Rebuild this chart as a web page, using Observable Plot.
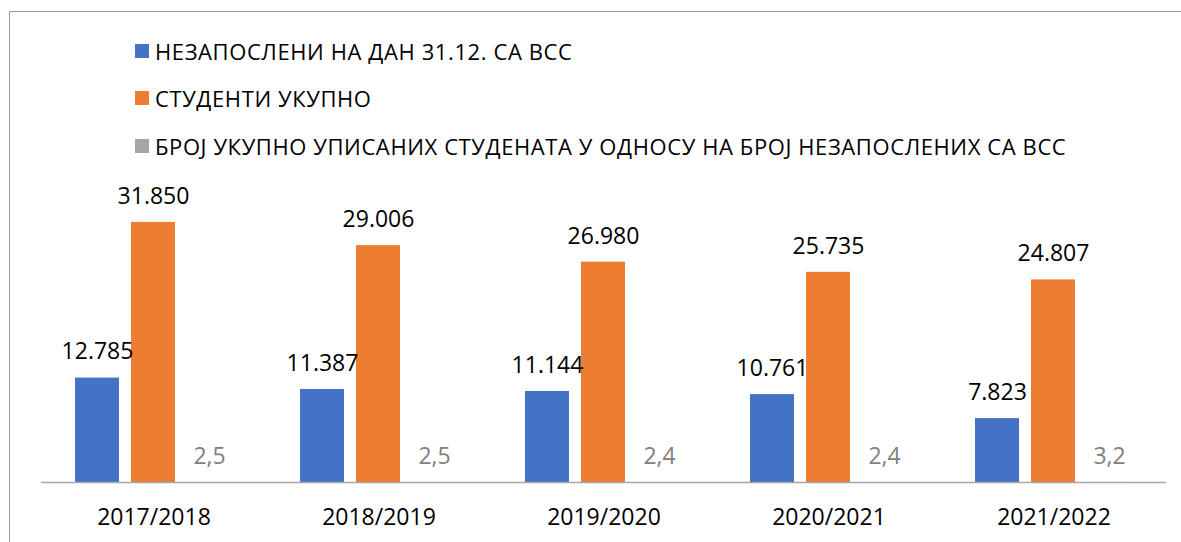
<!DOCTYPE html>
<html>
<head>
<meta charset="utf-8">
<script src="https://cdn.jsdelivr.net/npm/d3@7"></script>
<script src="https://cdn.jsdelivr.net/npm/@observablehq/plot@0.6"></script>
<style>
  html, body { margin: 0; padding: 0; background: #fff; width: 1181px; height: 542px; overflow: hidden; position: relative; font-family: "Open Sans", sans-serif; }
  #frame { position: absolute; left: 9px; top: 11px; width: 2000px; height: 2000px; border-left: 1px solid #9a9a9a; border-top: 1px solid #9a9a9a; }
  #legend { position: absolute; left: 135px; top: 0; }
  .item { position: absolute; left: 0; white-space: nowrap; display: flex; align-items: center; font-size: 22px; letter-spacing: 0.6px; color: #000; }
  .sw { width: 14px; height: 14px; margin-right: 6px; flex: none; }
  #chart { position: absolute; left: 0; top: 160px; }
</style>
</head>
<body>
<div id="frame"></div>
<div id="legend"></div>
<div id="chart"></div>
<script>
const years = ["2017/2018", "2018/2019", "2019/2020", "2020/2021", "2021/2022"];
const seriesNames = [
  "НЕЗАПОСЛЕНИ НА ДАН 31.12. СА ВСС",
  "СТУДЕНТИ УКУПНО",
  "БРОЈ УКУПНО УПИСАНИХ СТУДЕНАТА У ОДНОСУ НА БРОЈ НЕЗАПОСЛЕНИХ СА ВСС"
];
const unemployed = [12785, 11387, 11144, 10761, 7823];
const students = [31850, 29006, 26980, 25735, 24807];
const ratio = [2.5, 2.5, 2.4, 2.4, 3.2];
const colors = ["#4472C4", "#ED7D31", "#A5A5A5"];
const labelColors = ["#000000", "#000000", "#808080"];

const seriesValues = [unemployed, students, ratio];
const rows = [];
seriesNames.forEach((s, si) => {
  years.forEach((y, yi) => rows.push({year: y, series: s, si, value: seriesValues[si][yi]}));
});

const fmt = (d) => d.si === 2
  ? d.value.toFixed(1).replace(".", ",")
  : d3.format(",")(d.value).replace(/,/g, ".");

// legend
const legendTops = [51, 98, 146];
const legend = document.getElementById("legend");
seriesNames.forEach((s, i) => {
  const it = document.createElement("div");
  it.className = "item";
  it.style.top = (legendTops[i] - 15) + "px";
  it.style.height = "30px";
  it.innerHTML = `<span class="sw" style="background:${colors[i]}"></span><span>${s}</span>`;
  legend.appendChild(it);
});

const chart = Plot.plot({
  width: 1181,
  height: 382,
  marginLeft: 39,
  marginRight: 14,
  marginTop: 28,
  marginBottom: 60,
  style: {fontFamily: "Open Sans, sans-serif", background: "transparent", overflow: "visible"},
  fx: {domain: years, paddingInner: 0, paddingOuter: 0, label: null},
  x: {domain: seriesNames, paddingInner: 0.214, paddingOuter: 0.586, axis: null},
  y: {domain: [0, 36000], axis: null},
  color: {domain: seriesNames, range: colors},
  marks: [
    Plot.barY(rows, {fx: "year", x: "series", y: "value", fill: "series"}),
    Plot.ruleY([0], {stroke: "#a6a6a6", strokeWidth: 1.5}),
    Plot.text(rows, {
      fx: "year", x: "series", y: "value", text: fmt,
      fill: (d) => labelColors[d.si], fontSize: 23, lineAnchor: "middle", dy: -26
    }),
    Plot.axisFx({anchor: "bottom", tickSize: 0, tickPadding: 26, fontSize: 23, label: null, color: "#000"})
  ]
});
document.getElementById("chart").appendChild(chart);
</script>
</body>
</html>
